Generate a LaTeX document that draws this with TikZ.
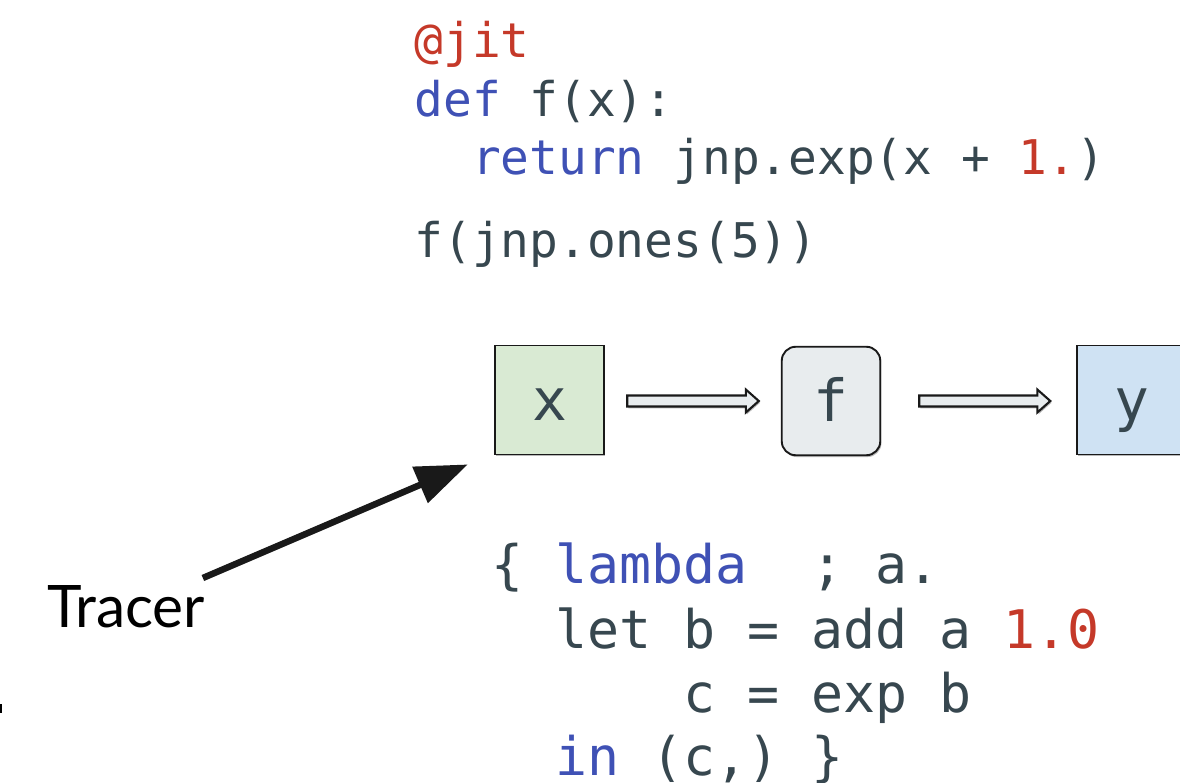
\documentclass[tikz,border=0pt]{standalone}
\usepackage{fontspec}
\newfontfamily\codefont{DejaVu Sans Mono}
\newfontfamily\labelfont{Lato}
\usetikzlibrary{arrows.meta,shadows,calc}

\definecolor{ink}{RGB}{55,71,79}
\definecolor{kwblue}{RGB}{63,81,181}
\definecolor{numred}{RGB}{197,57,41}
\definecolor{inputgreen}{RGB}{217,234,211}
\definecolor{funcgray}{RGB}{232,236,238}
\definecolor{outputblue}{RGB}{207,226,243}

\newcommand\kw[1]{\textcolor{kwblue}{#1}}
\newcommand\num[1]{\textcolor{numred}{#1}}

% hollow block arrow from #1 to the tip #2 (both on one horizontal line)
\newcommand\flowarrow[2]{%
  \draw[flow] ($(#1)+(0,-5.5)$) -- ($(#2)+(-13,-5.5)$) -- ($(#2)+(-13,-11.5)$)
    -- (#2) -- ($(#2)+(-13,11.5)$) -- ($(#2)+(-13,5.5)$) -- ($(#1)+(0,5.5)$) -- cycle;}

\tikzset{
  softshadow/.style={drop shadow={shadow xshift=1.2pt,shadow yshift=-1.8pt,opacity=.28,fill=black}},
  pycode/.style={anchor=base west,inner sep=0pt,outer sep=0pt,text=ink,
    font=\codefont\fontsize{47.8}{57}\selectfont},
  jaxpr/.style={anchor=base west,inner sep=0pt,outer sep=0pt,text=ink,
    font=\codefont\fontsize{53.2}{64}\selectfont},
  valbox/.style={draw=black!90,line width=1.9pt,minimum width=109.5pt,minimum height=109pt,
    inner sep=0pt,text=ink,text height=40pt,text depth=0pt,
    font=\codefont\fontsize{58}{60}\selectfont,softshadow},
  funcbox/.style={valbox,rounded corners=14pt,minimum width=98.5pt,minimum height=108.5pt,fill=funcgray},
  flow/.style={draw=black!90,line width=2.1pt,fill=funcgray,line join=miter,softshadow},
  tracerlabel/.style={anchor=base west,inner sep=0pt,outer sep=0pt,text=black,
    font=\labelfont\fontsize{58.6}{60}\selectfont},
  pointer/.style={draw=black!90,line width=6.5pt,-{Triangle[length=52pt,width=38pt]}},
}

\begin{document}
\begin{tikzpicture}[x=1pt,y=-1pt]
  \useasboundingbox (0,0) rectangle (1180,783);
  \clip (0,0) rectangle (1180,783);

  % Python source
  \node[pycode] (jitLine)  at (414.5,58)  {\num{@jit}};
  \node[pycode] (defLine)  at (414.5,117) {\kw{def} f(x):};
  \node[pycode] (retLine)  at (472,175)   {\kw{return} jnp.exp(x + \num{1.})};
  \node[pycode] (callLine) at (414.5,258) {f(jnp.ones(5))};

  % data flow: input, function, output
  \node[valbox,fill=inputgreen]  (xb) at (549.5,400) {x};
  \node[funcbox]                 (fb) at (831,401)   {f};
  \node[valbox,fill=outputblue]  (yb) at (1132,400)  {y};

  \coordinate (a1s) at ($(xb.east)+(22,1)$);
  \coordinate (a1e) at ($(fb.west)+(-22,0)$);
  \coordinate (a2s) at ($(fb.east)+(38,0)$);
  \coordinate (a2e) at ($(yb.west)+(-26,1)$);
  \flowarrow{a1s}{a1e}
  \flowarrow{a2s}{a2e}

  % traced jaxpr
  \node[jaxpr] (lamLine) at (491.5,583) {\{ \kw{lambda}~~; a.};
  \node[jaxpr] (letLine) at (555.5,648) {let b = add a \num{1.0}};
  \node[jaxpr] (cLine)   at (683.5,712) {c = exp b};
  \node[jaxpr] (inLine)  at (555.5,775) {\kw{in} (c,) \}};

  % tracer annotation
  \node[tracerlabel] (tracer) at (47,627) {Tracer};
  \coordinate (tracerTail) at ($(tracer.north east)+(-2,-7)$);
  \coordinate (tracerTip)  at ($(xb.south west)+(-26,9)$);
  \draw[pointer] (tracerTail) -- (tracerTip);

  % small mark on the left edge
  \draw[black,line width=2pt] (1,704) -- (1,713);
\end{tikzpicture}
\end{document}
